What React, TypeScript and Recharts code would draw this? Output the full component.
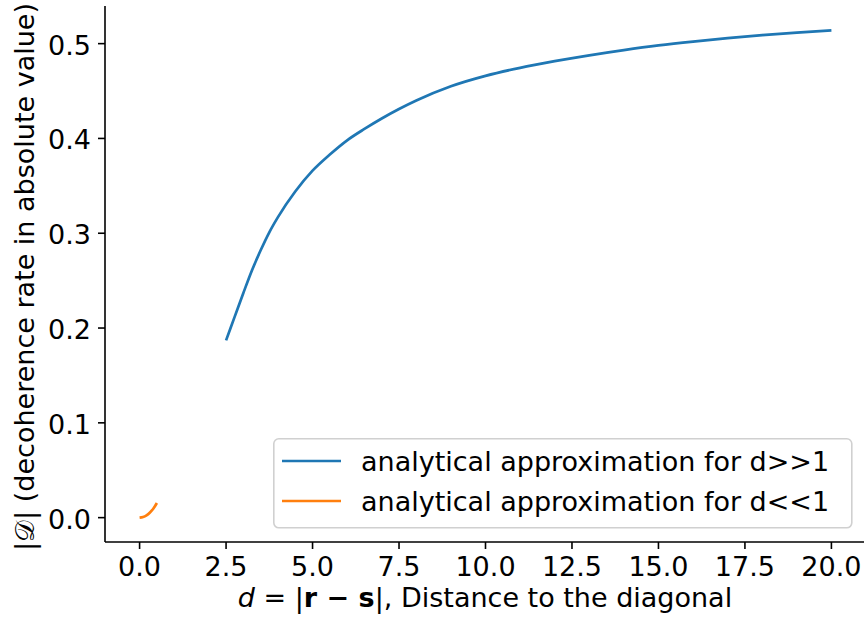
import { LineChart, Line, XAxis, YAxis, Label } from "recharts";

// readings from the reference picture
const largeD = [2.5, 2.75, 3, 3.25, 3.5, 3.75, 4, 4.5, 5, 5.5, 6, 6.5, 7, 7.5, 8, 9, 10, 11, 12, 13, 14, 15, 16, 17, 18, 19, 20];
const largeRate = [0.187, 0.212, 0.237, 0.261, 0.282, 0.301, 0.317, 0.344, 0.366, 0.383, 0.398, 0.41, 0.421, 0.431, 0.44, 0.455, 0.466, 0.4745, 0.4815, 0.4877, 0.4932, 0.4981, 0.5022, 0.5058, 0.509, 0.5117, 0.514];
const smallD = [0, 0.1, 0.2, 0.3, 0.4, 0.5];
const smallRate = [0, 0.0007, 0.0025, 0.0055, 0.0097, 0.0155];
const xTicks = [0, 2.5, 5, 7.5, 10, 12.5, 15, 17.5, 20];
const yTicks = [0, 0.1, 0.2, 0.3, 0.4, 0.5];
const seriesNames = ["analytical approximation for d>>1", "analytical approximation for d<<1"];
const seriesColors = ["#1f77b4", "#ff7f0e"];

const largeData = largeD.map((d, i) => ({ d, v: largeRate[i] }));
const smallData = smallD.map((d, i) => ({ d, v: smallRate[i] }));

const FONT = "DejaVu Sans";
const FS = 27;

const XTick = ({ x, payload }: any) => (
  <text x={x} y={576} textAnchor="middle" fontFamily={FONT} fontSize={FS} fill="#000">
    {payload.value.toFixed(1)}
  </text>
);

const YTick = ({ y, payload }: any) => (
  <text x={91} y={y + 11} textAnchor="end" fontFamily={FONT} fontSize={FS} fill="#000">
    {payload.value.toFixed(1)}
  </text>
);

// legend drawn as an overlay so it doesn't eat plot space
const LegendBox = () => (
  <svg width={580} height={91} style={{ position: "absolute", left: 273, top: 438 }}>
    <rect x={0.8} y={0.8} width={578} height={89} rx={5} fill="#fff" fillOpacity={0.8} stroke="#d0d0d0" strokeWidth={1.6} />
    {seriesNames.map((name, i) => (
      <g key={name}>
        <line x1={9} x2={68} y1={23 + i * 40} y2={23 + i * 40} stroke={seriesColors[i]} strokeWidth={2.7} />
        <text x={88} y={33 + i * 40} fontFamily={FONT} fontSize={FS} fill="#000">
          {name}
        </text>
      </g>
    ))}
  </svg>
);

export default function App() {
  return (
    <div style={{ position: "absolute", left: 0, top: 0, width: 864, height: 622, overflow: "hidden", background: "#fff" }}>
      <LineChart width={880} height={622} margin={{ top: 6, right: 14, bottom: 0, left: 0 }}>
        <XAxis
          dataKey="d"
          type="number"
          domain={[-1, 21]}
          ticks={xTicks}
          allowDataOverflow
          height={80}
          tick={<XTick />}
          tickSize={7}
          tickLine={{ stroke: "#000", strokeWidth: 1.6 }}
          axisLine={{ stroke: "#000", strokeWidth: 1.6 }}
        >
          <Label
            content={() => (
              <text x={485} y={607} textAnchor="middle" fontFamily={FONT} fontSize={FS} fill="#000">
                <tspan fontStyle="italic">d</tspan>
                <tspan> = |</tspan>
                <tspan fontWeight="bold">r − s</tspan>
                <tspan>|, Distance to the diagonal</tspan>
              </text>
            )}
          />
        </XAxis>
        <XAxis
          xAxisId="top"
          orientation="top"
          type="number"
          domain={[-1, 21]}
          height={0}
          tick={false}
          tickLine={false}
          axisLine={{ stroke: "#000", strokeWidth: 1.6 }}
        />
        <YAxis
          type="number"
          domain={[-0.0257, 0.5397]}
          ticks={yTicks}
          allowDataOverflow
          width={105}
          tick={<YTick />}
          tickSize={7}
          tickLine={{ stroke: "#000", strokeWidth: 1.6 }}
          axisLine={{ stroke: "#000", strokeWidth: 1.6 }}
        >
          <Label
            content={() => (
              <text
                x={34}
                y={277}
                transform="rotate(-90 34 277)"
                textAnchor="middle"
                fontFamily={FONT}
                fontSize={FS}
                fill="#000"
              >
                |𝒟| (decoherence rate in absolute value)
              </text>
            )}
          />
        </YAxis>
        <Line
          data={largeData}
          dataKey="v"
          name={seriesNames[0]}
          type="monotone"
          stroke={seriesColors[0]}
          strokeWidth={2.7}
          dot={false}
          isAnimationActive={false}
        />
        <Line
          data={smallData}
          dataKey="v"
          name={seriesNames[1]}
          type="monotone"
          stroke={seriesColors[1]}
          strokeWidth={2.7}
          dot={false}
          isAnimationActive={false}
        />
      </LineChart>
      <LegendBox />
    </div>
  );
}
